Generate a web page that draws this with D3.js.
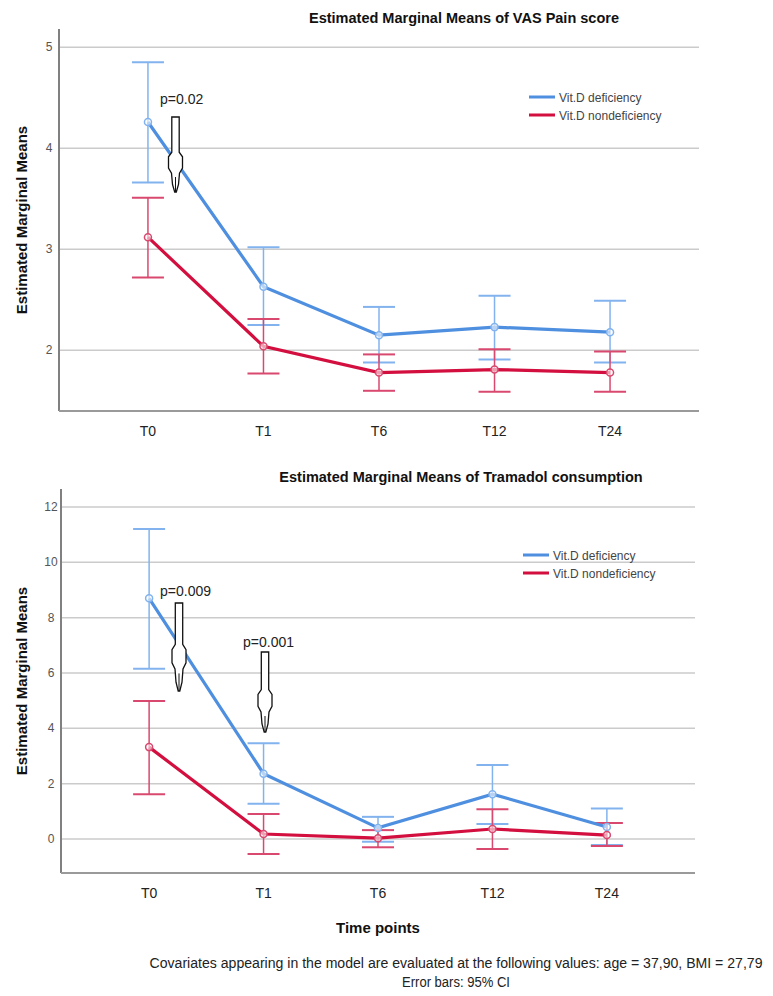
<!DOCTYPE html>
<html lang="en">
<head>
<meta charset="UTF-8">
<script src="https://d3js.org/d3.v7.min.js"></script>
<title>Estimated Marginal Means</title>
<style>
  body { margin: 0; background: #fff; }
  text { font-family: "Liberation Sans", Arial, sans-serif; }
</style>
</head>
<body>
<script>
// time points
var timePoints = ["T0", "T1", "T6", "T12", "T24"];
var seriesNames = ["Vit.D deficiency", "Vit.D nondeficiency"];

// VAS pain score
var vasDefMean  = [4.26, 2.63, 2.15, 2.23, 2.18];
var vasDefLow   = [3.66, 2.25, 1.88, 1.91, 1.88];
var vasDefHigh  = [4.85, 3.02, 2.43, 2.54, 2.49];
var vasNonMean  = [3.12, 2.04, 1.78, 1.81, 1.78];
var vasNonLow   = [2.72, 1.77, 1.60, 1.59, 1.59];
var vasNonHigh  = [3.51, 2.31, 1.96, 2.01, 1.99];
var vasTicks = [2, 3, 4, 5];

// Tramadol consumption
var tramDefMean = [8.70, 2.36, 0.40, 1.62, 0.43];
var tramDefLow  = [6.15, 1.27, -0.10, 0.54, -0.22];
var tramDefHigh = [11.20, 3.46, 0.80, 2.67, 1.10];
var tramNonMean = [3.32, 0.18, 0.03, 0.36, 0.14];
var tramNonLow  = [1.62, -0.54, -0.30, -0.36, -0.25];
var tramNonHigh = [4.99, 0.90, 0.32, 1.07, 0.58];
var tramTicks = [0, 2, 4, 6, 8, 10, 12];

var blue = "#4f8fe0", blueBar = "#82b3ee";
var red = "#d30f3f", redBar = "#d9496f";

var W = 773, H = 996;
var svg = d3.select("body").append("svg").attr("width", W).attr("height", H);

function drawChart(o) {
    var g = svg.append("g");
    var x = d3.scalePoint().domain(timePoints).range([o.left, o.right]).padding(0.77);
    var y = d3.scaleLinear().domain(o.domain).range([o.bottom, o.top]);

    // gridlines
    g.selectAll(".grid").data(o.ticks).enter().append("line")
        .attr("x1", o.left).attr("x2", o.right)
        .attr("y1", d => y(d)).attr("y2", d => y(d))
        .style("stroke", "#cbcbcb").style("stroke-width", 1.5);

    // axis lines
    g.append("line").attr("x1", o.left).attr("x2", o.left).attr("y1", o.top).attr("y2", o.bottom)
        .style("stroke", "#808080").style("stroke-width", 2);
    g.append("line").attr("x1", o.left).attr("x2", o.right).attr("y1", o.bottom).attr("y2", o.bottom)
        .style("stroke", "#9a9a9a").style("stroke-width", 2);

    // y tick labels
    g.selectAll(".yt").data(o.ticks).enter().append("text")
        .attr("x", o.left - 10).attr("y", d => y(d) + 4)
        .attr("text-anchor", "middle").style("font-size", "12px").style("fill", "#555")
        .text(d => d);

    // x tick labels
    g.selectAll(".xt").data(timePoints).enter().append("text")
        .attr("x", d => x(d)).attr("y", o.bottom + 25)
        .attr("text-anchor", "middle").style("font-size", "14px").style("fill", "#222")
        .text(d => d);

    // title
    g.append("text").attr("x", o.titleX).attr("y", o.titleY).attr("text-anchor", "middle")
        .style("font-size", "14.5px").style("font-weight", "bold").style("fill", "#111")
        .text(o.title);

    // y axis label
    g.append("text")
        .attr("transform", "translate(27," + ((o.top + o.bottom) / 2) + ") rotate(-90)")
        .attr("text-anchor", "middle").style("font-size", "15px").style("font-weight", "bold").style("fill", "#111")
        .text("Estimated Marginal Means");

    var series = [
        {mean: o.defMean, low: o.defLow, high: o.defHigh, c: blue, cb: blueBar},
        {mean: o.nonMean, low: o.nonLow, high: o.nonHigh, c: red, cb: redBar}
    ];
    var line = d3.line().x((d, i) => x(timePoints[i])).y(d => y(d));

    // error bars
    series.forEach(function (s) {
        timePoints.forEach(function (t, i) {
            var cx = x(t);
            g.append("line").attr("x1", cx).attr("x2", cx).attr("y1", y(s.low[i])).attr("y2", y(s.high[i]))
                .style("stroke", s.cb).style("stroke-width", 1.5);
            [s.low[i], s.high[i]].forEach(function (v) {
                g.append("line").attr("x1", cx - 16).attr("x2", cx + 16).attr("y1", y(v)).attr("y2", y(v))
                    .style("stroke", s.cb).style("stroke-width", 2);
            });
        });
    });
    // mean lines + markers
    series.forEach(function (s) {
        g.append("path").datum(s.mean).attr("d", line)
            .style("fill", "none").style("stroke", s.c).style("stroke-width", 3.2);
        g.selectAll(null).data(s.mean).enter().append("circle")
            .attr("cx", (d, i) => x(timePoints[i])).attr("cy", d => y(d)).attr("r", 3.5)
            .style("fill", "#fff").style("fill-opacity", 0.6).style("stroke", s.cb).style("stroke-width", 1.5);
    });

    // legend
    var lg = g.append("g").attr("transform", "translate(" + o.legX + "," + o.legY + ")");
    seriesNames.forEach(function (n, i) {
        lg.append("line").attr("x1", 0).attr("x2", 26).attr("y1", i * 18).attr("y2", i * 18)
            .style("stroke", i === 0 ? blue : red).style("stroke-width", 3);
        lg.append("text").attr("x", 30).attr("y", i * 18 + 4.5).style("font-size", "12px").style("fill", "#444")
            .text(n);
    });

    // p-value notes with hollow arrows
    o.notes.forEach(function (nt) {
        g.append("text").attr("x", nt.tx).attr("y", nt.ty).style("font-size", "14px").style("fill", "#222")
            .text(nt.label);
        var ax = nt.ax, t0 = nt.top, L = nt.len;
        var pts = [
            [-3.7, 0], [3.7, 0], [3.7, 0.47], [7, 0.53], [7, 0.68], [4, 0.75],
            [3, 0.9], [0.8, 1], [-0.8, 1], [-3, 0.9], [-4, 0.75], [-7, 0.68], [-7, 0.53], [-3.7, 0.47]
        ];
        g.append("path")
            .attr("d", d3.line()(pts.map(p => [ax + p[0], t0 + p[1] * L])) + "Z")
            .style("fill", "#fff").style("stroke", "#111").style("stroke-width", 1.3);
        g.append("line").attr("x1", ax).attr("x2", ax).attr("y1", t0 + 0.8 * L).attr("y2", t0 + L)
            .style("stroke", "#111").style("stroke-width", 1);
    });
}

drawChart({
    left: 59, right: 699, top: 29, bottom: 411, domain: [1.4, 5.18], ticks: vasTicks,
    title: "Estimated Marginal Means of VAS Pain score", titleX: 464, titleY: 23,
    defMean: vasDefMean, defLow: vasDefLow, defHigh: vasDefHigh,
    nonMean: vasNonMean, nonLow: vasNonLow, nonHigh: vasNonHigh,
    legX: 529, legY: 97,
    notes: [{label: "p=0.02", tx: 160, ty: 104, ax: 175.5, top: 117, len: 75}]
});

drawChart({
    left: 61, right: 695, top: 489, bottom: 873, domain: [-1.23, 12.65], ticks: tramTicks,
    title: "Estimated Marginal Means of Tramadol consumption", titleX: 461, titleY: 482,
    defMean: tramDefMean, defLow: tramDefLow, defHigh: tramDefHigh,
    nonMean: tramNonMean, nonLow: tramNonLow, nonHigh: tramNonHigh,
    legX: 523, legY: 555,
    notes: [
        {label: "p=0.009", tx: 160, ty: 596, ax: 179, top: 603, len: 88},
        {label: "p=0.001", tx: 243, ty: 647, ax: 265, top: 652, len: 80}
    ]
});

// x axis title and footnotes
svg.append("text").attr("x", 378).attr("y", 933).attr("text-anchor", "middle")
    .style("font-size", "15px").style("font-weight", "bold").style("fill", "#111").text("Time points");
svg.append("text").attr("x", 456).attr("y", 968).attr("text-anchor", "middle")
    .attr("textLength", 613).attr("lengthAdjust", "spacingAndGlyphs")
    .style("font-size", "14px").style("fill", "#222")
    .text("Covariates appearing in the model are evaluated at the following values: age = 37,90, BMI = 27,79");
svg.append("text").attr("x", 456).attr("y", 987).attr("text-anchor", "middle")
    .attr("textLength", 108).attr("lengthAdjust", "spacingAndGlyphs")
    .style("font-size", "14px").style("fill", "#222").text("Error bars: 95% CI");
</script>
</body>
</html>
